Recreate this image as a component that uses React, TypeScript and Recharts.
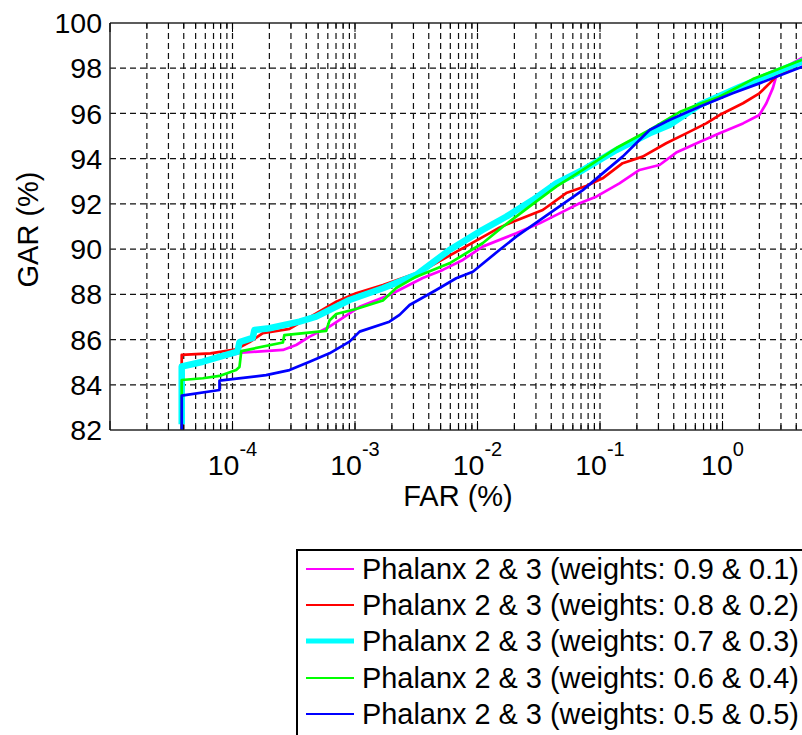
import { LineChart, Line, XAxis, YAxis, CartesianGrid, Legend } from 'recharts';

const FONT = '"Liberation Sans", Arial, Helvetica, sans-serif';

// FAR (%) / GAR (%) points
const far09 = [3.85e-5, 3.85e-5, 6.49e-5, 1.18e-4, 2.58e-4, 3.31e-4, 4.26e-4, 6.19e-4, 9.02e-4, 1.09e-3, 1.91e-3, 3.57e-3, 5.21e-3, 7.59e-3, 1.1e-2, 2.07e-2, 3.21e-2, 4.67e-2, 6.81e-2, 9.31e-2, 0.144, 0.21, 0.306, 0.419, 0.649, 0.946, 1.47, 2.0, 2.28, 2.58, 2.74, 3.31, 4.42, 5.0];
const gar09 = [82.0, 84.83, 85.1, 85.42, 85.54, 85.76, 86.13, 86.57, 87.16, 87.45, 87.97, 88.72, 89.08, 89.52, 90.11, 90.7, 91.14, 91.58, 92.03, 92.32, 92.91, 93.5, 93.72, 94.27, 94.74, 95.12, 95.56, 95.93, 96.45, 97.13, 97.63, 98.07, 98.44, 98.6];

const far08 = [3.85e-5, 3.85e-5, 6.61e-5, 1.07e-4, 1.38e-4, 1.77e-4, 2.92e-4, 4.82e-4, 7.03e-4, 1.02e-3, 1.69e-3, 3.16e-3, 4.05e-3, 7.94e-3, 1.51e-2, 1.82e-2, 3.41e-2, 5.3e-2, 7.71e-2, 0.105, 0.153, 0.223, 0.347, 0.506, 0.736, 0.946, 1.47, 2.0, 2.42, 2.74, 4.42, 5.0];
const gar08 = [82.0, 85.32, 85.39, 85.57, 85.89, 86.28, 86.47, 87.16, 87.67, 88.05, 88.41, 88.93, 89.22, 90.1, 90.95, 91.14, 91.73, 92.48, 92.79, 93.13, 93.8, 94.09, 94.68, 95.12, 95.56, 95.93, 96.45, 96.89, 97.33, 97.63, 98.24, 98.4];

const far07 = [3.85e-5, 3.85e-5, 5.73e-5, 1.1e-4, 1.14e-4, 1.46e-4, 1.51e-4, 2.0e-4, 3.52e-4, 4.82e-4, 9.02e-4, 1.69e-3, 3.16e-3, 5.9e-3, 1.1e-2, 1.71e-2, 2.82e-2, 4.39e-2, 7.24e-2, 0.136, 0.254, 0.369, 0.649, 1.38, 2.74, 4.42, 5.0];
const gar07 = [82.25, 84.81, 85.02, 85.47, 85.89, 86.07, 86.42, 86.5, 86.79, 87.01, 87.75, 88.27, 88.86, 89.96, 90.85, 91.43, 92.17, 92.91, 93.5, 94.38, 95.12, 95.49, 96.37, 97.17, 97.83, 98.29, 98.45];

const far06 = [3.85e-5, 3.85e-5, 5.73e-5, 7.83e-5, 1.07e-4, 1.14e-4, 1.18e-4, 2.58e-4, 2.65e-4, 5.82e-4, 6.19e-4, 7.03e-4, 1.02e-3, 1.69e-3, 2.17e-3, 3.16e-3, 5.9e-3, 1.1e-2, 1.61e-2, 2.65e-2, 4.39e-2, 7.24e-2, 0.136, 0.254, 0.446, 0.649, 0.946, 1.77, 2.74, 4.42, 5.0];
const gar06 = [82.0, 84.21, 84.29, 84.39, 84.65, 84.79, 85.49, 85.87, 86.2, 86.38, 86.84, 87.13, 87.35, 87.73, 88.28, 88.78, 89.37, 90.26, 90.99, 91.88, 92.76, 93.5, 94.47, 95.27, 96.06, 96.42, 96.74, 97.52, 97.92, 98.36, 98.5];

const far05 = [3.85e-5, 3.85e-5, 7.83e-5, 7.83e-5, 1.88e-4, 2.92e-4, 4.26e-4, 6.19e-4, 9.02e-4, 1.09e-3, 1.91e-3, 2.31e-3, 2.79e-3, 4.6e-3, 6.7e-3, 9.16e-3, 1.51e-2, 2.07e-2, 3.87e-2, 7.24e-2, 0.105, 0.153, 0.254, 0.369, 0.649, 1.21, 2.0, 4.42, 5.0];
const gar05 = [82.0, 83.52, 83.77, 84.18, 84.43, 84.65, 85.02, 85.39, 85.91, 86.35, 86.79, 87.09, 87.53, 88.19, 88.71, 89.0, 89.96, 90.55, 91.58, 92.61, 93.35, 94.09, 95.27, 95.71, 96.3, 96.89, 97.33, 98.05, 98.2];

const seriesNames = [
  'Phalanx 2 & 3 (weights: 0.9 & 0.1)',
  'Phalanx 2 & 3 (weights: 0.8 & 0.2)',
  'Phalanx 2 & 3 (weights: 0.7 & 0.3)',
  'Phalanx 2 & 3 (weights: 0.6 & 0.4)',
  'Phalanx 2 & 3 (weights: 0.5 & 0.5)',
];
const seriesColors = ['#ff00ff', '#ff0000', '#00ffff', '#00ff00', '#0000ff'];
const seriesWidths = [2.7, 2.7, 6.5, 2.7, 2.7];
const legendWidths = [2, 2, 5, 2, 2];

const garTicks = [82, 84, 86, 88, 90, 92, 94, 96, 98, 100];
const garGrid = [84, 86, 88, 90, 92, 94, 96, 98];
const farLabelTicks = [1e-4, 1e-3, 1e-2, 1e-1, 1];
const farDecades = [1e-5, 1e-4, 1e-3, 1e-2, 1e-1, 1];
const farMultipliers = [1, 2, 3, 4, 5, 6, 7, 8, 9];

const farTicks = farDecades.flatMap(d => farMultipliers.map(m => m * d)).concat(10);
const farGrid = farTicks.filter(v => v > 1e-5 && v < 10);

const pairs = [
  [far09, gar09],
  [far08, gar08],
  [far07, gar07],
  [far06, gar06],
  [far05, gar05],
];
const seriesData = pairs.map(([fars, gars]) => fars.map((far, i) => ({ far, gar: gars[i] })));

const isMajor = (v: number) => Math.abs(Math.log10(v) - Math.round(Math.log10(v))) < 1e-6;

const BottomTick = (props: any) => {
  const { x, y, payload } = props;
  const v = payload.value;
  const major = isMajor(v);
  const labeled = farLabelTicks.some(t => Math.abs(t - v) / t < 1e-6);
  return (
    <g>
      <line x1={x} y1={y} x2={x} y2={y - (major ? 9 : 5)} stroke="#000" strokeWidth={1} />
      {labeled && (
        <text x={x} y={y + 45} textAnchor="middle" fontSize={28.5} fontFamily={FONT} fill="#000">
          10
          <tspan dy={-19} fontSize={20}>{Math.round(Math.log10(v))}</tspan>
        </text>
      )}
    </g>
  );
};

const TopTick = (props: any) => {
  const { x, y, payload } = props;
  const major = isMajor(payload.value);
  return <line x1={x} y1={y} x2={x} y2={y + (major ? 9 : 5)} stroke="#000" strokeWidth={1} />;
};

const FarLabel = () => (
  <text x={458} y={506} textAnchor="middle" fontSize={29} fontFamily={FONT} fill="#000">
    FAR (%)
  </text>
);

const GarLabel = () => (
  <text x={37.5} y={229.5} transform="rotate(-90 37.5 229.5)" textAnchor="middle" fontSize={29} fontFamily={FONT} fill="#000">
    GAR (%)
  </text>
);

const LegendBox = () => (
  <div
    style={{
      border: '2px solid #000',
      background: '#fff',
      width: 520,
      height: 200,
      boxSizing: 'border-box',
      paddingLeft: 8,
    }}
  >
    {seriesNames.map((name, i) => (
      <div key={name} style={{ display: 'flex', alignItems: 'center', height: 36.2 }}>
        <svg width={48} height={10} style={{ display: 'block' }}>
          <line x1={0} y1={5} x2={48} y2={5} stroke={seriesColors[i]} strokeWidth={legendWidths[i]} />
        </svg>
        <span style={{ marginLeft: 8, fontSize: 28.9, fontFamily: FONT, color: '#000', whiteSpace: 'nowrap', lineHeight: '36px' }}>
          {name}
        </span>
      </div>
    ))}
  </div>
);

export default function App() {
  const axisLine = { stroke: '#262626', strokeWidth: 1.5 };
  return (
    <div style={{ position: 'absolute', left: 0, top: 0, width: 802, height: 735, overflow: 'hidden', background: '#fff', fontFamily: FONT }}>
      <LineChart width={900} height={735} margin={{ top: 22, right: 55, bottom: 245, left: 40 }}>
        <CartesianGrid stroke="#111" strokeWidth={1.2} strokeDasharray="6 4" horizontalValues={garGrid} verticalValues={farGrid} />
        <XAxis
          xAxisId={0}
          dataKey="far"
          type="number"
          scale="log"
          domain={[1e-5, 10]}
          allowDataOverflow
          ticks={farTicks}
          interval={0}
          tickSize={0}
          tickMargin={0}
          tickLine={false}
          axisLine={axisLine}
          height={60}
          tick={(p: any) => <BottomTick {...p} />}
          label={() => <FarLabel />}
        />
        <XAxis
          xAxisId="top"
          orientation="top"
          dataKey="far"
          type="number"
          scale="log"
          domain={[1e-5, 10]}
          allowDataOverflow
          ticks={farTicks}
          interval={0}
          tickSize={0}
          tickMargin={0}
          tickLine={false}
          axisLine={axisLine}
          height={1}
          tick={(p: any) => <TopTick {...p} />}
        />
        <YAxis
          dataKey="gar"
          type="number"
          domain={[82, 100]}
          allowDataOverflow
          ticks={garTicks}
          interval={0}
          tickSize={0}
          tickMargin={8}
          tickLine={false}
          axisLine={axisLine}
          width={70}
          tick={{ fill: '#000', fontSize: 28.5, fontFamily: FONT }}
          label={() => <GarLabel />}
        />
        {seriesData.map((d, i) => (
          <Line
            key={seriesNames[i]}
            data={d}
            dataKey="gar"
            name={seriesNames[i]}
            type="linear"
            stroke={seriesColors[i]}
            strokeWidth={seriesWidths[i]}
            strokeLinejoin="round"
            dot={false}
            activeDot={false}
            isAnimationActive={false}
          />
        ))}
        <Legend
          layout="vertical"
          align="center"
          verticalAlign="middle"
          wrapperStyle={{ left: 296, top: 549, width: 520 }}
          content={() => <LegendBox />}
        />
      </LineChart>
    </div>
  );
}
